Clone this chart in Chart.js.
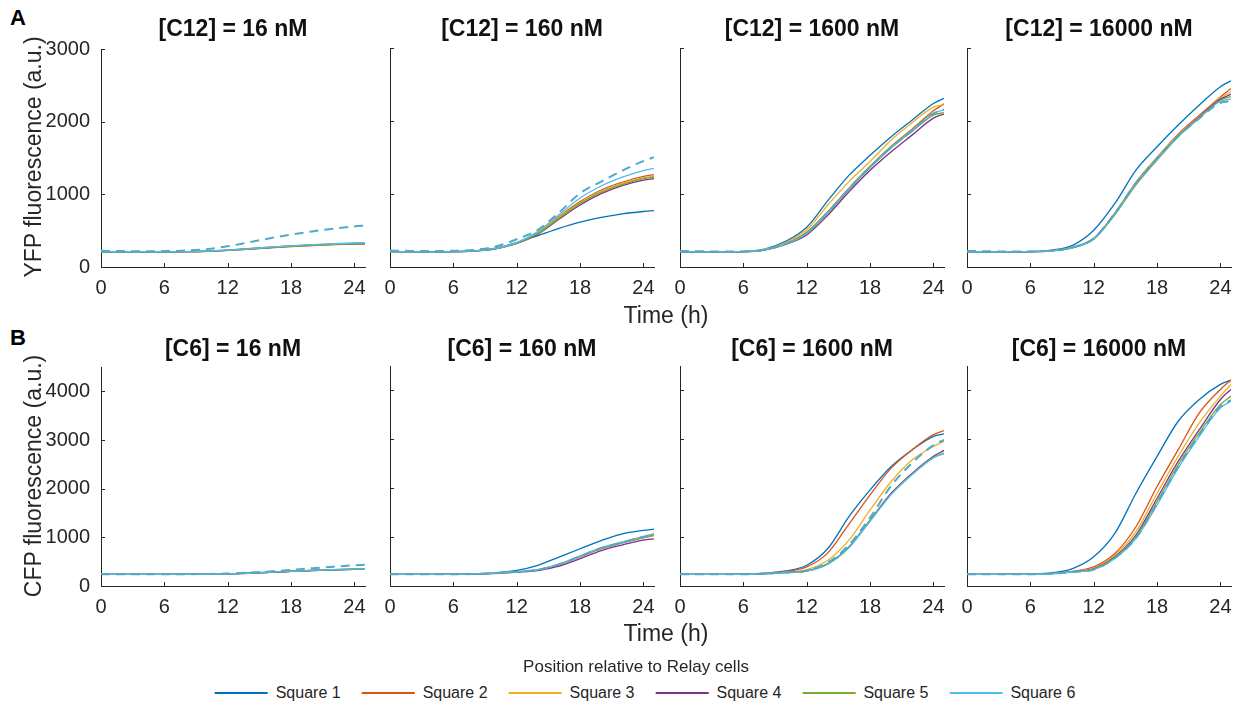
<!DOCTYPE html>
<html>
<head>
<meta charset="utf-8">
<script src="https://cdn.jsdelivr.net/npm/chart.js@4.4.1/dist/chart.umd.min.js"></script>
<style>
  body { margin: 0; background: #fff; font-family: 'Liberation Sans', Arial, sans-serif; color: #262626; }
  #fig { position: relative; width: 1241px; height: 710px; overflow: hidden; }
  canvas { position: absolute; }
  .txt { position: absolute; transform: translate(-50%, -50%); white-space: nowrap; }
  .ttl { font-weight: bold; font-size: 23px; color: #111; }
  .letter { font-weight: bold; font-size: 22px; color: #000; }
  .axlab { font-size: 23px; }
  .ylab { transform: translate(-50%, -50%) rotate(-90deg); }
  .legtitle { font-size: 17px; }
  #legend { position: absolute; left: 645px; top: 693px; transform: translate(-50%, -50%); display: flex; align-items: center; font-size: 16px; white-space: nowrap; }
  .item { display: flex; align-items: center; flex-shrink: 0; margin-right: 21px; }
  .item:last-child { margin-right: 0; }
  .swatch { width: 53px; height: 2px; margin-right: 8px; flex-shrink: 0; }
</style>
</head>
<body>
<div id="fig"></div>
<script>
// time points (h)
const hours = [0, 2, 4, 6, 8, 10, 12, 14, 16, 18, 20, 22, 24, 25];
const xTicks = [0, 6, 12, 18, 24];
const yfpTicks = [0, 1000, 2000, 3000];
const cfpTicks = [0, 1000, 2000, 3000, 4000];

const seriesNames = ['Square 1', 'Square 2', 'Square 3', 'Square 4', 'Square 5', 'Square 6'];
const seriesColors = ['#0072BD', '#D95319', '#EDB120', '#7E2F8E', '#77AC30', '#4DBEEE'];
const dashColor = '#52A9C9';

const yfpTitles = ['[C12] = 16 nM', '[C12] = 160 nM', '[C12] = 1600 nM', '[C12] = 16000 nM'];
const cfpTitles = ['[C6] = 16 nM', '[C6] = 160 nM', '[C6] = 1600 nM', '[C6] = 16000 nM'];

// YFP, one row per square
const yfp16 = [
  [210, 210, 210, 210, 212, 218, 232, 252, 272, 290, 305, 316, 325, 328],
  [210, 210, 210, 210, 211, 216, 228, 246, 265, 282, 296, 307, 314, 316],
  [210, 210, 210, 210, 211, 216, 229, 248, 267, 284, 298, 309, 317, 319],
  [210, 210, 210, 210, 211, 216, 229, 248, 268, 286, 301, 312, 320, 322],
  [210, 210, 210, 210, 211, 216, 228, 247, 266, 284, 299, 310, 318, 320],
  [210, 210, 210, 210, 212, 218, 232, 252, 273, 292, 308, 320, 330, 333]
];
const yfp16Dash = [222, 219, 217, 219, 226, 246, 285, 340, 395, 445, 490, 528, 558, 570];

const yfp160 = [
  [210, 208, 207, 210, 222, 260, 335, 430, 530, 615, 680, 728, 760, 772],
  [210, 208, 207, 210, 220, 252, 330, 470, 690, 895, 1055, 1160, 1240, 1265],
  [210, 208, 207, 210, 220, 252, 328, 465, 680, 880, 1040, 1145, 1220, 1245],
  [210, 208, 207, 210, 219, 250, 322, 450, 655, 850, 1005, 1115, 1190, 1210],
  [210, 208, 207, 210, 220, 251, 325, 458, 668, 868, 1025, 1130, 1210, 1232],
  [210, 208, 207, 210, 221, 255, 335, 485, 715, 945, 1110, 1230, 1320, 1350]
];
const yfp160Dash = [225, 220, 218, 222, 235, 280, 380, 510, 745, 1010, 1170, 1320, 1450, 1505];

const yfp1600 = [
  [210, 208, 208, 212, 245, 350, 545, 910, 1255, 1530, 1785, 2015, 2240, 2310],
  [210, 208, 208, 210, 235, 320, 475, 760, 1080, 1380, 1655, 1890, 2140, 2235],
  [210, 208, 208, 211, 240, 335, 510, 850, 1170, 1445, 1740, 1980, 2190, 2220],
  [210, 208, 208, 210, 232, 310, 440, 710, 1030, 1325, 1580, 1810, 2040, 2095],
  [210, 208, 208, 210, 233, 314, 455, 740, 1060, 1360, 1630, 1860, 2080, 2115],
  [210, 208, 208, 210, 234, 316, 460, 750, 1070, 1370, 1645, 1875, 2110, 2150]
];
const yfp1600Dash = [220, 215, 212, 213, 236, 318, 462, 752, 1072, 1372, 1640, 1870, 2100, 2160];

const yfp16000 = [
  [210, 208, 208, 212, 230, 297, 503, 870, 1327, 1648, 1945, 2220, 2470, 2550],
  [210, 208, 208, 210, 222, 270, 395, 740, 1160, 1500, 1820, 2080, 2330, 2445],
  [210, 208, 208, 210, 222, 268, 390, 735, 1150, 1490, 1810, 2065, 2315, 2400],
  [210, 208, 208, 210, 221, 266, 385, 725, 1140, 1480, 1800, 2055, 2300, 2365],
  [210, 208, 208, 210, 220, 264, 380, 715, 1125, 1465, 1785, 2040, 2285, 2335],
  [210, 208, 208, 210, 221, 266, 388, 730, 1145, 1482, 1795, 2045, 2270, 2300]
];
const yfp16000Dash = [220, 215, 212, 213, 222, 268, 392, 735, 1150, 1485, 1790, 2035, 2250, 2270];

// CFP, one row per square
const cfp16 = [
  [240, 240, 240, 240, 241, 244, 251, 264, 283, 303, 321, 335, 346, 351],
  [240, 240, 240, 240, 241, 243, 249, 261, 280, 299, 316, 330, 340, 344],
  [240, 240, 240, 240, 241, 244, 250, 263, 282, 301, 319, 333, 343, 348],
  [240, 240, 240, 240, 241, 244, 250, 262, 281, 300, 318, 332, 342, 346],
  [240, 240, 240, 240, 241, 244, 250, 263, 282, 302, 320, 334, 345, 350],
  [240, 240, 240, 240, 241, 244, 251, 264, 284, 304, 322, 337, 348, 353]
];
const cfp16Dash = [240, 240, 240, 240, 242, 247, 256, 275, 300, 330, 365, 398, 425, 435];

const cfp160 = [
  [240, 238, 238, 240, 250, 275, 320, 422, 592, 762, 930, 1068, 1136, 1163],
  [240, 238, 238, 240, 246, 262, 290, 330, 435, 600, 765, 880, 985, 1030],
  [240, 238, 238, 240, 246, 262, 292, 335, 445, 612, 780, 895, 1000, 1040],
  [240, 238, 238, 240, 245, 258, 283, 315, 405, 560, 725, 840, 940, 965],
  [240, 238, 238, 240, 246, 261, 290, 330, 440, 605, 770, 885, 995, 1050],
  [240, 238, 238, 240, 246, 262, 292, 335, 445, 615, 785, 900, 1015, 1070]
];
const cfp160Dash = [240, 238, 238, 240, 246, 262, 291, 332, 442, 608, 775, 890, 1005, 1055];

const cfp1600 = [
  [240, 238, 238, 242, 262, 308, 425, 767, 1418, 1966, 2445, 2788, 3062, 3110],
  [240, 238, 238, 241, 258, 295, 390, 678, 1267, 1863, 2411, 2788, 3096, 3178],
  [240, 238, 238, 240, 252, 282, 336, 527, 938, 1555, 2137, 2582, 2856, 2959],
  [240, 238, 238, 240, 250, 276, 308, 459, 801, 1349, 1897, 2308, 2651, 2774],
  [240, 238, 238, 240, 250, 276, 305, 450, 790, 1335, 1880, 2290, 2630, 2719],
  [240, 238, 238, 240, 250, 275, 303, 445, 780, 1325, 1870, 2280, 2620, 2705]
];
const cfp1600Dash = [240, 238, 238, 240, 251, 279, 315, 480, 840, 1400, 2050, 2520, 2880, 2990];

const cfp16000 = [
  [240, 238, 240, 245, 267, 356, 596, 1075, 1897, 2651, 3370, 3815, 4123, 4212],
  [240, 238, 238, 242, 255, 300, 390, 664, 1212, 2034, 2788, 3541, 4021, 4212],
  [240, 238, 238, 241, 253, 295, 365, 630, 1110, 1897, 2651, 3336, 3884, 4123],
  [240, 238, 238, 241, 252, 292, 350, 596, 1041, 1794, 2548, 3199, 3815, 4021],
  [240, 238, 238, 241, 252, 290, 342, 582, 1007, 1726, 2479, 3130, 3712, 3884],
  [240, 238, 238, 240, 251, 288, 335, 561, 972, 1657, 2411, 3062, 3644, 3781]
];
const cfp16000Dash = [240, 238, 238, 240, 251, 289, 338, 570, 985, 1690, 2440, 3090, 3670, 3800];

const axisColor = '#262626';
Chart.defaults.font.family = "'Liberation Sans', Arial, sans-serif";
Chart.defaults.color = axisColor;

// layout of the plot boxes (px)
const colLeft = [101, 390, 680, 967];
const plotW = 264;
const rowTop = [48, 366];
const rowH = [219, 220];
const padL = 60, padT = 14, padR = 10, padB = 40;

const fig = document.getElementById('fig');

// MATLAB style ticks pointing into the axes
const inwardTicks = {
  id: 'inwardTicks',
  afterDraw(chart) {
    const { ctx, chartArea, scales } = chart;
    ctx.save();
    ctx.strokeStyle = axisColor;
    ctx.lineWidth = 1;
    ctx.beginPath();
    scales.x.ticks.forEach(t => {
      const px = Math.round(scales.x.getPixelForValue(t.value)) + 0.5;
      ctx.moveTo(px, chartArea.bottom);
      ctx.lineTo(px, chartArea.bottom - 4);
    });
    scales.y.ticks.forEach(t => {
      const py = Math.round(scales.y.getPixelForValue(t.value)) + 0.5;
      ctx.moveTo(chartArea.left, py);
      ctx.lineTo(chartArea.left + 4, py);
    });
    ctx.stroke();
    ctx.restore();
  }
};

function toPoints(vals) {
  return vals.map((v, i) => ({ x: hours[i], y: v }));
}

function makePanel(row, col, series, dash, yMax, yTicks) {
  const canvas = document.createElement('canvas');
  const w = plotW + padL + padR;
  const h = rowH[row] + padT + padB;
  canvas.width = w;
  canvas.height = h;
  canvas.style.left = (colLeft[col] - padL) + 'px';
  canvas.style.top = (rowTop[row] - padT) + 'px';
  fig.appendChild(canvas);

  const datasets = series.map((vals, i) => ({
    label: seriesNames[i],
    data: toPoints(vals),
    borderColor: seriesColors[i],
    borderWidth: 1.3,
    order: 10 - i
  }));
  datasets.push({
    label: 'dashed',
    data: toPoints(dash),
    borderColor: dashColor,
    borderWidth: 2,
    borderDash: [9, 6],
    order: 0
  });

  new Chart(canvas, {
    type: 'line',
    data: { datasets },
    options: {
      responsive: false,
      animation: false,
      events: [],
      layout: { padding: { left: 0, top: padT, right: padR, bottom: 0 } },
      elements: {
        point: { radius: 0 },
        line: { cubicInterpolationMode: 'monotone', fill: false }
      },
      plugins: { legend: { display: false }, tooltip: { enabled: false } },
      scales: {
        x: {
          type: 'linear',
          min: 0,
          max: 25,
          afterFit: s => { s.height = padB; },
          afterBuildTicks: s => { s.ticks = xTicks.map(v => ({ value: v })); },
          grid: { display: false },
          border: { display: true, color: axisColor, width: 1 },
          ticks: { font: { size: 20 }, color: axisColor, padding: 1, maxRotation: 0, callback: v => String(v) }
        },
        y: {
          min: 0,
          max: yMax,
          afterFit: s => { s.width = padL; },
          afterBuildTicks: s => { s.ticks = yTicks.map(v => ({ value: v })); },
          grid: { display: false },
          border: { display: true, color: axisColor, width: 1 },
          ticks: { display: col === 0, font: { size: 20 }, color: axisColor, padding: 3, callback: v => String(v) }
        }
      }
    },
    plugins: [inwardTicks]
  });
}

makePanel(0, 0, yfp16, yfp16Dash, 3000, yfpTicks);
makePanel(0, 1, yfp160, yfp160Dash, 3000, yfpTicks);
makePanel(0, 2, yfp1600, yfp1600Dash, 3000, yfpTicks);
makePanel(0, 3, yfp16000, yfp16000Dash, 3000, yfpTicks);
makePanel(1, 0, cfp16, cfp16Dash, 4500, cfpTicks);
makePanel(1, 1, cfp160, cfp160Dash, 4500, cfpTicks);
makePanel(1, 2, cfp1600, cfp1600Dash, 4500, cfpTicks);
makePanel(1, 3, cfp16000, cfp16000Dash, 4500, cfpTicks);

function addText(text, x, y, cls) {
  const d = document.createElement('div');
  d.className = 'txt ' + cls;
  d.textContent = text;
  d.style.left = x + 'px';
  d.style.top = y + 'px';
  fig.appendChild(d);
}

yfpTitles.forEach((t, i) => addText(t, colLeft[i] + plotW / 2, 28, 'ttl'));
cfpTitles.forEach((t, i) => addText(t, colLeft[i] + plotW / 2, 348, 'ttl'));
addText('A', 18, 18, 'letter');
addText('B', 18, 338, 'letter');
addText('Time (h)', 666, 315, 'axlab');
addText('Time (h)', 666, 633, 'axlab');
addText('YFP fluorescence (a.u.)', 33, 157, 'axlab ylab');
addText('CFP fluorescence (a.u.)', 33, 476, 'axlab ylab');
addText('Position relative to Relay cells', 636, 667, 'legtitle');

// legend
const legend = document.createElement('div');
legend.id = 'legend';
legend.innerHTML = seriesNames.map((name, i) => `
  <div class="item">
    <div class="swatch" style="background:${seriesColors[i]}"></div>
    <span>${name}</span>
  </div>`).join('');
fig.appendChild(legend);
</script>
</body>
</html>
